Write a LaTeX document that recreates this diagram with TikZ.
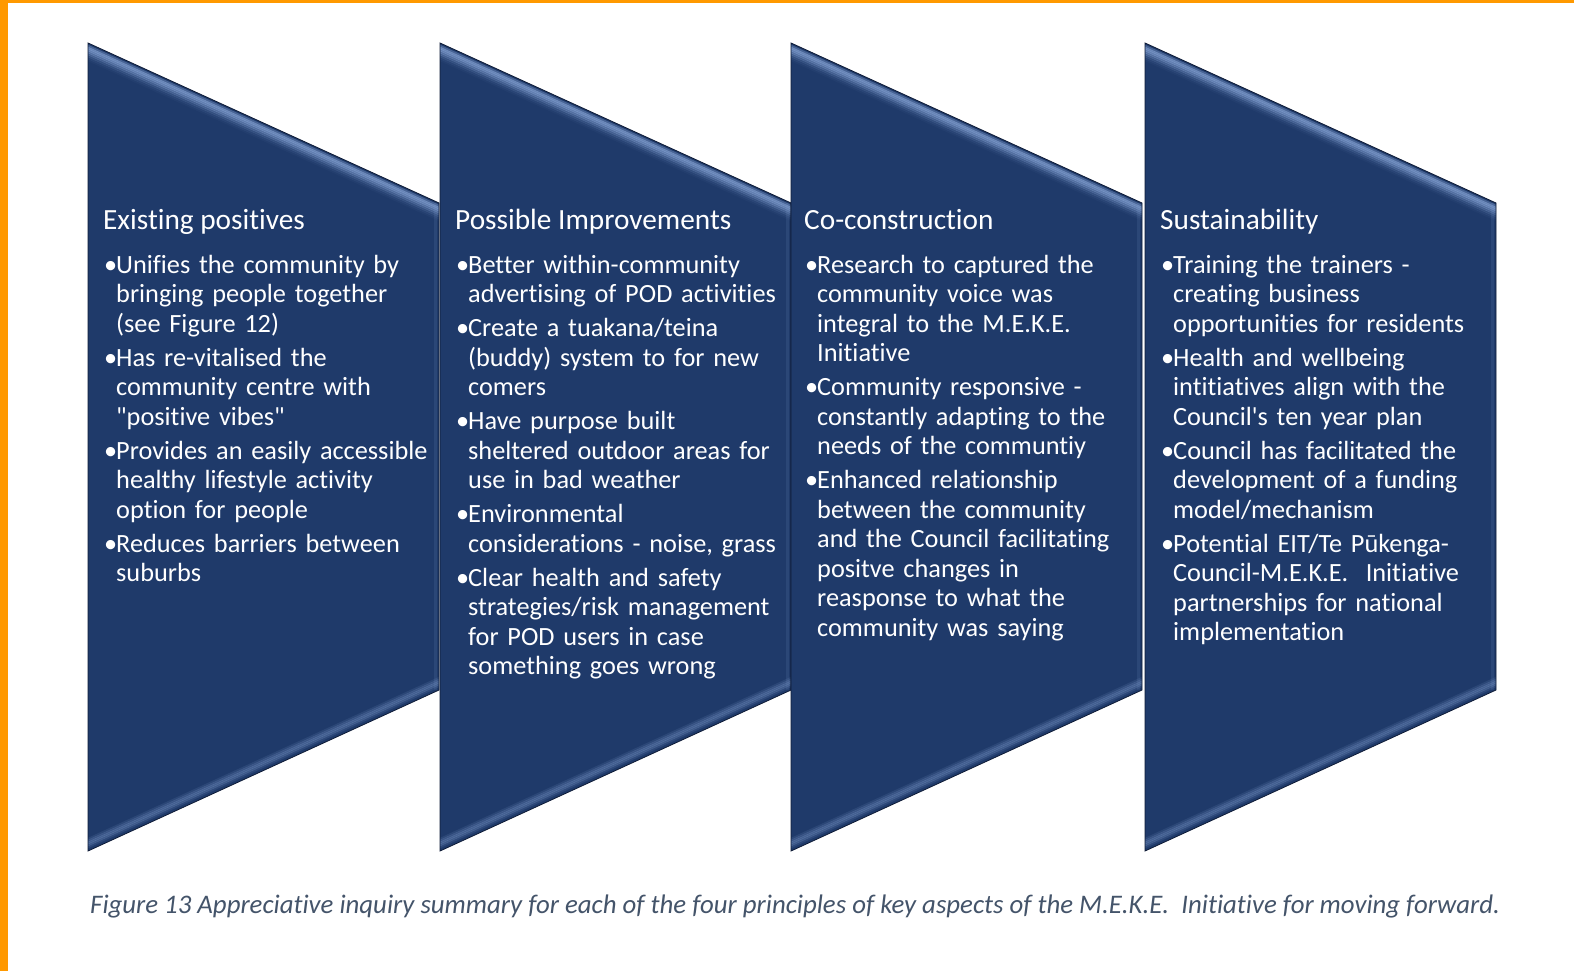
\documentclass[tikz,border=0pt]{standalone}
\usepackage{fontspec}
\setmainfont{Carlito}[Ligatures={TeXOff,CommonOff}]
\usetikzlibrary{positioning}
\definecolor{navy}{RGB}{31,58,106}
\definecolor{navyedge}{RGB}{14,27,54}
\definecolor{bevel}{RGB}{135,165,215}
\definecolor{capgrey}{RGB}{68,84,106}
\definecolor{orangebar}{RGB}{255,153,0}
\newcommand{\itm}[2][\par]{#1\hangindent=12pt\hangafter=1\noindent\makebox[12pt][l]{\textbullet}#2}

\begin{document}
\begin{tikzpicture}[x=1pt,y=-1pt]
% STYLES
\tikzset{
    chev/.style={fill=navy},
    chevline/.style={draw=navyedge, line width=0.8pt},
    ttl/.style={anchor=base west, inner sep=0pt, text=white,
    font=\fontsize{29.3}{32}\selectfont},
    lst/.style={anchor=base west, inner sep=0pt, text=white, text width=340pt,
    align=left, font=\fontsize{26.3}{29.5}\selectfont,
    execute at begin node={\setlength{\parskip}{4.6pt}}},
    capt/.style={anchor=base west, inner sep=0pt, text=capgrey,
    font=\fontsize{26.8}{30}\selectfont\itshape}
}
\fill[white] (0,0) rectangle (1574,971);
\useasboundingbox (0,0) rectangle (1574,971);
\fill[orangebar] (0,0) rectangle (8,971);
\fill[orangebar] (0,0) rectangle (1574,3);

% the four chevrons
\foreach \x in {88,440,791,1145}{
  \fill[chev] (\x,43) -- (\x+351,203) -- (\x+351,690) -- (\x,851) -- cycle;
  \begin{scope}
    \clip (\x,43) -- (\x+351,203) -- (\x+351,690) -- (\x,851) -- cycle;
    \foreach \k/\o in {3/0.4,5/0.7,7/0.65,9/0.5,11/0.35,13/0.2,15/0.1,17/0.04}
      \draw[bevel, line width=2.2pt, opacity=\o] (\x,43+\k) -- (\x+351,203+\k);
    \foreach \k/\o in {4/0.15,6/0.3,8/0.35,10/0.25,12/0.12}
      \draw[bevel, line width=2.2pt, opacity=\o] (\x,851-\k) -- (\x+351,690-\k);
    \draw[bevel, line width=3pt, opacity=0.12] (\x+347,203) -- (\x+347,690);
  \end{scope}
  \draw[chevline] (\x,43) -- (\x+351,203) -- (\x+351,690) -- (\x,851) -- cycle;
}

% titles
\node[ttl] (t1) at (103,229) {Existing positives};
\node[ttl] (t2) at (455,229) {Possible Improvements};
\node[ttl] (t3) at (804,229) {Co-construction};
\node[ttl] (t4) at (1160,229) {Sustainability};

% bullet lists
\node[lst] (l1) at ([xshift=1pt,yshift=-44pt]t1.base west) {%
\itm[]{Unifies the community by\newline bringing people together\newline (see Figure 12)}
\itm{Has re-vitalised the\newline community centre with\newline "positive vibes"}
\itm{Provides an easily accessible\newline healthy lifestyle activity\newline option for people}
\itm{Reduces barriers between\newline suburbs}\par};
\node[lst] (l2) at ([xshift=1pt,yshift=-44pt]t2.base west) {%
\itm[]{Better within-community\newline advertising of POD activities}
\itm{Create a tuakana/teina\newline (buddy) system to for new\newline comers}
\itm{Have purpose built\newline sheltered outdoor areas for\newline use in bad weather}
\itm{Environmental\newline considerations - noise, grass}
\itm{Clear health and safety\newline strategies/risk management\newline for POD users in case\newline something goes wrong}\par};
\node[lst] (l3) at ([xshift=1pt,yshift=-44pt]t3.base west) {%
\itm[]{Research to captured the\newline community voice was\newline integral to the M.E.K.E.\newline Initiative}
\itm{Community responsive -\newline constantly adapting to the\newline needs of the communtiy}
\itm{Enhanced relationship\newline between the community\newline and the Council facilitating\newline positve changes in\newline reasponse to what the\newline community was saying}\par};
\node[lst] (l4) at ([xshift=1pt,yshift=-44pt]t4.base west) {%
\itm[]{Training the trainers -\newline creating business\newline opportunities for residents}
\itm{Health and wellbeing\newline intitiatives align with the\newline Council's ten year plan}
\itm{Council has facilitated the\newline development of a funding\newline model/mechanism}
\itm{Potential EIT/Te Pūkenga-\newline Council-M.E.K.E.\ \ Initiative\newline partnerships for national\newline implementation}\par};

% caption
\node[capt] (cap) at (90,913) {Figure 13 Appreciative inquiry summary for each of the four principles of key aspects of the M.E.K.E.\ \ Initiative for moving forward.};
\end{tikzpicture}
\end{document}
